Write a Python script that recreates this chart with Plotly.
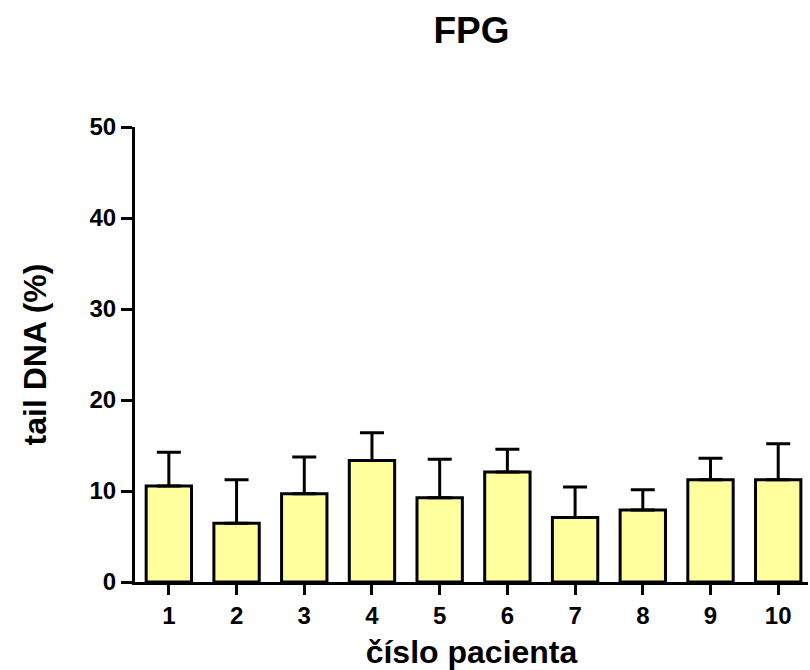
import plotly.graph_objects as go

patients = [1, 2, 3, 4, 5, 6, 7, 8, 9, 10]
tick_labels = ["1", "2", "3", "4", "5", "6", "7", "8", "9", "10"]
means = [10.55, 6.45, 9.7, 13.35, 9.25, 12.1, 7.1, 7.9, 11.25, 11.25]
upper = [14.25, 11.25, 13.75, 16.4, 13.5, 14.6, 10.45, 10.15, 13.6, 15.2]
err = [u - m for u, m in zip(upper, means)]

font_fam = "Arial, Liberation Sans, sans-serif"

fig = go.Figure()
fig.add_trace(go.Bar(
    x=patients, y=means, width=0.67,
    marker=dict(color="#FFFF9E", line=dict(color="black", width=3)),
    error_y=dict(type="data", symmetric=False, array=err, arrayminus=[0]*10,
                 color="black", thickness=3, width=12),
))

fig.update_layout(
    width=810, height=670,
    margin=dict(l=135, r=2, t=127, b=88),
    plot_bgcolor="white", paper_bgcolor="white",
    showlegend=False,
    font=dict(family=font_fam, color="black"),
    title=dict(text="FPG", x=0.5, xref="paper", xanchor="center", y=0.955, yanchor="middle",
               font=dict(family=font_fam, size=37, weight="bold", color="black")),
    xaxis=dict(range=[0.5, 10.44], tickmode="array", tickvals=patients, ticktext=tick_labels,
               showline=True, linecolor="black", linewidth=3, ticks="outside", ticklen=10,
               tickwidth=3, tickcolor="black", showgrid=False, zeroline=False,
               tickfont=dict(family=font_fam, size=24, weight="bold"),
               title=dict(text="číslo pacienta", standoff=16,
                          font=dict(family=font_fam, size=32, weight="bold"))),
    yaxis=dict(range=[0, 50], tickvals=[0, 10, 20, 30, 40, 50],
               showline=True, linecolor="black", linewidth=3, ticks="outside", ticklen=11,
               tickwidth=3, tickcolor="black", showgrid=False, zeroline=False,
               tickfont=dict(family=font_fam, size=24, weight="bold"),
               title=dict(text="tail DNA (%)", standoff=34,
                          font=dict(family=font_fam, size=32, weight="bold"))),
)

fig.write_html("out.html")
